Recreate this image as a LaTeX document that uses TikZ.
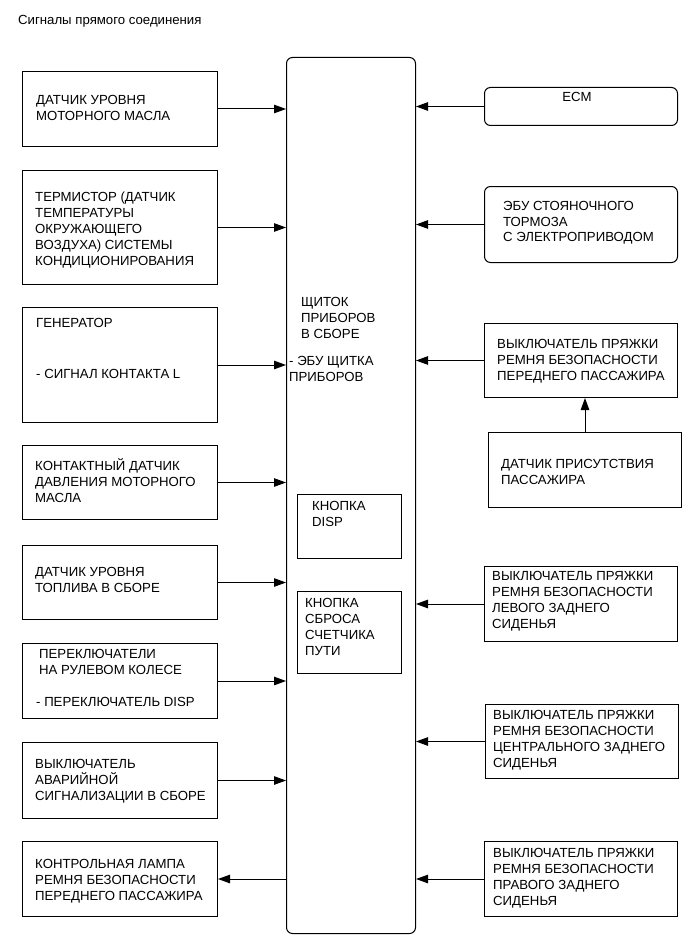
\documentclass[tikz,border=0pt]{standalone}
\usepackage{fontspec}
\setmainfont{Liberation Sans}
\usetikzlibrary{arrows.meta}
\newcommand\mylines[1]{\begin{tabular}[t]{@{}l@{}}#1\end{tabular}}
\begin{document}
\begin{tikzpicture}[x=1pt,y=-1pt,
  box/.style={draw, line width=1pt, inner sep=0pt, anchor=north west},
  rbox/.style={box, rounded corners=6pt},
  txt/.style={anchor=base west, inner sep=0pt, font=\fontsize{13.2}{16}\selectfont},
  arr/.style={line width=1pt, -{Triangle[length=12pt,width=8.5pt]}}]
\useasboundingbox[fill=white] (0,0) rectangle (690,952);

\node[txt] (title) at (18,25) {Сигналы прямого соединения};

% main block
\node[rbox, minimum width=129, minimum height=876] (main) at (286,57) {};
\node[txt] (maint) at (289,306) {\mylines{\hspace*{12pt}ЩИТОК\\\hspace*{12pt}ПРИБОРОВ\\\hspace*{12pt}В СБОРЕ\\[11pt]- ЭБУ ЩИТКА\\ПРИБОРОВ}};
\node[box, minimum width=104, minimum height=64] (disp) at (297,494) {};
\node[txt] (dispt) at (312,510) {\mylines{КНОПКА\\DISP}};
\node[box, minimum width=104, minimum height=82] (reset) at (297,591) {};
\node[txt] (resett) at (305,607) {\mylines{КНОПКА\\СБРОСА\\СЧЕТЧИКА\\ПУТИ}};

% left column
\node[box, minimum width=195, minimum height=75] (l1) at (22,71) {};
\node[txt] (l1t) at (36,105) {\mylines{ДАТЧИК УРОВНЯ\\МОТОРНОГО МАСЛА}};
\node[box, minimum width=195, minimum height=114] (l2) at (22,170) {};
\node[txt] (l2t) at (35,201) {\mylines{ТЕРМИСТОР (ДАТЧИК\\ТЕМПЕРАТУРЫ\\ОКРУЖАЮЩЕГО\\ВОЗДУХА) СИСТЕМЫ\\КОНДИЦИОНИРОВАНИЯ}};
\node[box, minimum width=195, minimum height=115] (l3) at (22,307) {};
\node[txt] (l3t) at (36,327) {\mylines{ГЕНЕРАТОР\\[35pt]- СИГНАЛ КОНТАКТА L}};
\node[box, minimum width=195, minimum height=74] (l4) at (22,445) {};
\node[txt] (l4t) at (35,470) {\mylines{КОНТАКТНЫЙ ДАТЧИК\\ДАВЛЕНИЯ МОТОРНОГО\\МАСЛА}};
\node[box, minimum width=195, minimum height=74] (l5) at (22,545) {};
\node[txt] (l5t) at (35,576) {\mylines{ДАТЧИК УРОВНЯ\\ТОПЛИВА В СБОРЕ}};
\node[box, minimum width=195, minimum height=75] (l6) at (22,643) {};
\node[txt] (l6t) at (36,658) {\mylines{\hspace*{3pt}ПЕРЕКЛЮЧАТЕЛИ\\\hspace*{3pt}НА РУЛЕВОМ КОЛЕСЕ\\[16pt]- ПЕРЕКЛЮЧАТЕЛЬ DISP}};
\node[box, minimum width=195, minimum height=76] (l7) at (22,742) {};
\node[txt] (l7t) at (35,768) {\mylines{ВЫКЛЮЧАТЕЛЬ\\АВАРИЙНОЙ\\СИГНАЛИЗАЦИИ В СБОРЕ}};
\node[box, minimum width=195, minimum height=75] (l8) at (22,841) {};
\node[txt] (l8t) at (35,868) {\mylines{КОНТРОЛЬНАЯ ЛАМПА\\РЕМНЯ БЕЗОПАСНОСТИ\\ПЕРЕДНЕГО ПАССАЖИРА}};

% right column
\node[rbox, minimum width=193, minimum height=38] (ecm) at (484,87) {};
\node[txt, anchor=base] (ecmt) at (577,102) {ECM};
\node[rbox, minimum width=193, minimum height=76] (r2) at (484,186) {};
\node[txt] (r2t) at (503,210) {\mylines{ЭБУ СТОЯНОЧНОГО\\ТОРМОЗА\\С ЭЛЕКТРОПРИВОДОМ}};
\node[box, minimum width=193, minimum height=74] (r3) at (484,323) {};
\node[txt] (r3t) at (497,348) {\mylines{ВЫКЛЮЧАТЕЛЬ ПРЯЖКИ\\РЕМНЯ БЕЗОПАСНОСТИ\\ПЕРЕДНЕГО ПАССАЖИРА}};
\node[box, minimum width=193, minimum height=75] (r4) at (488,432) {};
\node[txt] (r4t) at (501,468) {\mylines{ДАТЧИК ПРИСУТСТВИЯ\\ПАССАЖИРА}};
\node[box, minimum width=193, minimum height=75] (r5) at (484,566) {};
\node[txt] (r5t) at (492,580) {\mylines{ВЫКЛЮЧАТЕЛЬ ПРЯЖКИ\\РЕМНЯ БЕЗОПАСНОСТИ\\ЛЕВОГО ЗАДНЕГО\\СИДЕНЬЯ}};
\node[box, minimum width=193, minimum height=74] (r6) at (485,704) {};
\node[txt] (r6t) at (493,719) {\mylines{ВЫКЛЮЧАТЕЛЬ ПРЯЖКИ\\РЕМНЯ БЕЗОПАСНОСТИ\\ЦЕНТРАЛЬНОГО ЗАДНЕГО\\СИДЕНЬЯ}};
\node[box, minimum width=193, minimum height=75] (r7) at (484,841) {};
\node[txt] (r7t) at (493,857) {\mylines{ВЫКЛЮЧАТЕЛЬ ПРЯЖКИ\\РЕМНЯ БЕЗОПАСНОСТИ\\ПРАВОГО ЗАДНЕГО\\СИДЕНЬЯ}};

% connectors
\foreach \n in {l1,l2,l3,l4,l5,l6,l7}
  \draw[arr] (\n.east) -- (\n.east -| main.west);
\draw[arr] (l8.east -| main.west) -- (l8.east);
\foreach \n in {ecm,r2,r3,r5,r6,r7}
  \draw[arr] (\n.west) -- (\n.west -| main.east);
\draw[arr] (r4.north) -- (r4.north |- r3.south);
\end{tikzpicture}
\end{document}
